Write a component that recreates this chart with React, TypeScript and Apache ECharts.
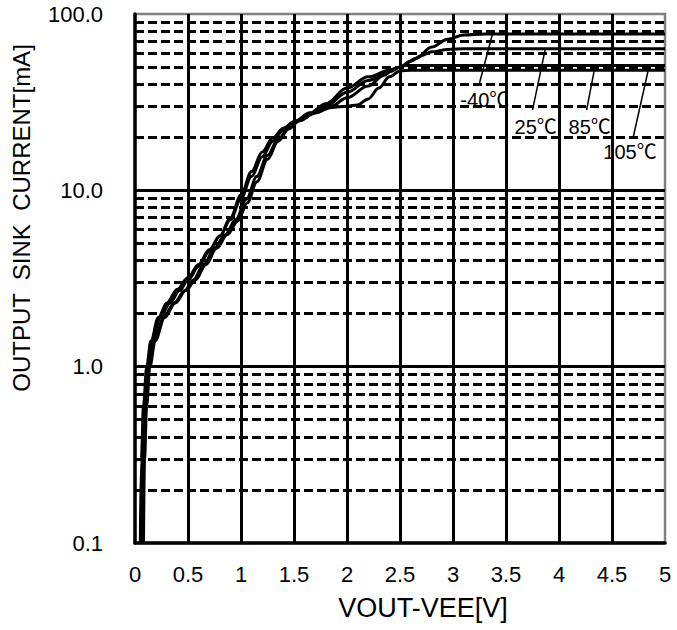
import React, { useEffect, useRef } from "react";
import * as echarts from "echarts";

// ---- data ----
const temps = ["-40℃", "25℃", "85℃", "105℃"];

const curveM40: [number, number][] = [
  [0.05, 0.1], [0.06, 0.3], [0.08, 0.6], [0.11, 1.0], [0.15, 1.4], [0.22, 1.9], [0.3, 2.3],
  [0.4, 2.75], [0.5, 3.2], [0.6, 3.8], [0.7, 4.6], [0.8, 5.5], [0.9, 6.8], [1.0, 9.0],
  [1.1, 12], [1.2, 15.5], [1.3, 19], [1.4, 22], [1.5, 24.5], [1.65, 27], [1.8, 30],
  [2.0, 36], [2.2, 42], [2.4, 47], [2.5, 50], [2.65, 56], [2.8, 65], [2.95, 72],
  [3.1, 76], [3.3, 77], [5.0, 77],
];
const curve25: [number, number][] = [
  [0.06, 0.1], [0.07, 0.3], [0.09, 0.6], [0.12, 1.0], [0.16, 1.4], [0.24, 1.9], [0.33, 2.3],
  [0.42, 2.7], [0.5, 3.1], [0.6, 3.7], [0.7, 4.5], [0.8, 5.5], [0.9, 7.0], [1.0, 9.4],
  [1.1, 12.8], [1.2, 16.5], [1.3, 19.8], [1.4, 22.5], [1.5, 24.5], [1.65, 27.5], [1.8, 31],
  [2.0, 38], [2.2, 44], [2.4, 48], [2.5, 50], [2.6, 54], [2.7, 58], [2.8, 61], [2.95, 63],
  [3.1, 63.5], [5.0, 63.5],
];
const curve85: [number, number][] = [
  [0.07, 0.1], [0.08, 0.3], [0.1, 0.6], [0.13, 1.0], [0.18, 1.4], [0.27, 1.9], [0.37, 2.3],
  [0.47, 2.7], [0.55, 3.1], [0.65, 3.8], [0.75, 4.7], [0.85, 5.6], [0.95, 6.8], [1.05, 8.9],
  [1.15, 12], [1.25, 15.8], [1.35, 19.5], [1.45, 22.5], [1.55, 24.8], [1.7, 27.5], [1.85, 30],
  [2.0, 33.5], [2.2, 39], [2.35, 45], [2.45, 49], [2.55, 51], [2.7, 51], [5.0, 51],
];
const curve105: [number, number][] = [
  [0.08, 0.1], [0.09, 0.3], [0.11, 0.6], [0.14, 1.0], [0.19, 1.4], [0.28, 1.9], [0.38, 2.3],
  [0.48, 2.7], [0.57, 3.1], [0.67, 3.8], [0.77, 4.7], [0.87, 5.6], [0.97, 6.7], [1.06, 8.5],
  [1.15, 11.2], [1.25, 15], [1.35, 19], [1.45, 22.3], [1.55, 24.8], [1.7, 27.5],
  [1.85, 29.5], [2.0, 30], [2.1, 30.5], [2.2, 33], [2.3, 38], [2.4, 44], [2.5, 47.5],
  [2.6, 48], [5.0, 48],
];
const curves = [curveM40, curve25, curve85, curve105];

const minorLevels = [
  0.2, 0.3, 0.4, 0.5, 0.6, 0.7, 0.8, 0.9,
  2, 3, 4, 5, 6, 7, 8, 9,
  20, 30, 40, 50, 60, 70, 80, 90,
];

// annotation anchors in data coordinates
const labelAt: [number, number][] = [[3.3, 32.5], [3.78, 22.9], [4.29, 22.9], [4.67, 16.5]];
const leaderFrom: [number, number][] = [[3.25, 40.6], [3.75, 28.5], [4.26, 28.5], [4.7, 20]];
const leaderTo: [number, number][] = [[3.37, 76], [3.87, 63], [4.34, 50.5], [4.84, 47.5]];

const xTitle = "VOUT-VEE[V]";
const yTitle = "OUTPUT  SINK  CURRENT[mA]";

const FONT = '"Liberation Sans", Arial, "Noto Sans CJK JP", sans-serif';

export default function App() {
  const ref = useRef<HTMLDivElement>(null);
  useEffect(() => {
    const chart = echarts.init(ref.current!, null, { renderer: "svg" });
    const curveSeries = curves.map((c, i) => ({
      type: "line",
      name: temps[i],
      data: c,
      smooth: 0.35,
      smoothMonotone: "x",
      symbol: "none",
      showSymbol: false,
      silent: true,
      z: 5,
      lineStyle: { color: "#000", width: 3 },
    }));
    chart.setOption({
      animation: false,
      backgroundColor: "#fff",
      grid: {
        left: 135,
        top: 14,
        right: 12,
        bottom: 87,
        show: true,
        borderColor: "#808080",
        borderWidth: 2.5,
        backgroundColor: "transparent",
      },
      xAxis: {
        type: "value",
        min: 0,
        max: 5,
        interval: 0.5,
        axisLine: { show: true, lineStyle: { color: "#000", width: 3.5 } },
        axisTick: { show: false },
        axisLabel: {
          margin: 20,
          fontSize: 22,
          color: "#000",
          fontFamily: FONT,
          formatter: (v: number) => String(v),
        },
        splitLine: {
          show: true,
          showMinLine: false,
          showMaxLine: false,
          lineStyle: { color: "#000", width: 3 },
        },
      },
      yAxis: {
        type: "log",
        logBase: 10,
        min: 0.1,
        max: 100,
        axisLine: { show: true, lineStyle: { color: "#000", width: 3.5 } },
        axisTick: { show: false },
        axisLabel: {
          margin: 32,
          fontSize: 22,
          color: "#000",
          fontFamily: FONT,
          formatter: (v: number) => Number(v).toFixed(1),
        },
        splitLine: {
          show: true,
          showMinLine: false,
          showMaxLine: false,
          lineStyle: { color: "#000", width: 3 },
        },
      },
      graphic: [
        {
          type: "text",
          x: 21,
          y: 218,
          rotation: Math.PI / 2,
          style: {
            text: yTitle,
            font: `24px ${FONT}`,
            fill: "#000",
            textAlign: "center",
            textVerticalAlign: "middle",
          },
        },
        {
          type: "text",
          x: 423,
          y: 608,
          style: {
            text: xTitle,
            font: `27px ${FONT}`,
            fill: "#000",
            textAlign: "center",
            textVerticalAlign: "middle",
          },
        },
      ],
      series: [
        {
          type: "line",
          data: [],
          z: 2,
          silent: true,
          markLine: {
            silent: true,
            symbol: ["none", "none"],
            label: { show: false },
            lineStyle: { color: "#000", width: 2.8, type: [9, 4] },
            data: minorLevels.map((v) => ({ yAxis: v })),
          },
        },
        ...curveSeries,
        {
          type: "line",
          data: [],
          z: 6,
          silent: true,
          markLine: {
            silent: true,
            symbol: ["none", "none"],
            label: { show: false },
            lineStyle: { color: "#000", width: 1.5, type: "solid" },
            data: leaderFrom.map((a, i) => [{ coord: a }, { coord: leaderTo[i] }]),
          },
        },
        {
          type: "scatter",
          z: 7,
          silent: true,
          symbolSize: 0,
          itemStyle: { color: "#000", opacity: 1 },
          data: labelAt.map((p, i) => ({ value: p, name: temps[i] })),
          label: {
            show: true,
            position: "inside",
            formatter: (p: any) => p.name,
            fontSize: 20,
            color: "#000",
            textBorderWidth: 0,
            textBorderColor: "transparent",
            fontFamily: FONT,
          },
        },
      ],
    });
    return () => chart.dispose();
  }, []);
  return (
    <div
      ref={ref}
      style={{ position: "fixed", left: 0, top: 0, width: 677, height: 630 }}
    />
  );
}
